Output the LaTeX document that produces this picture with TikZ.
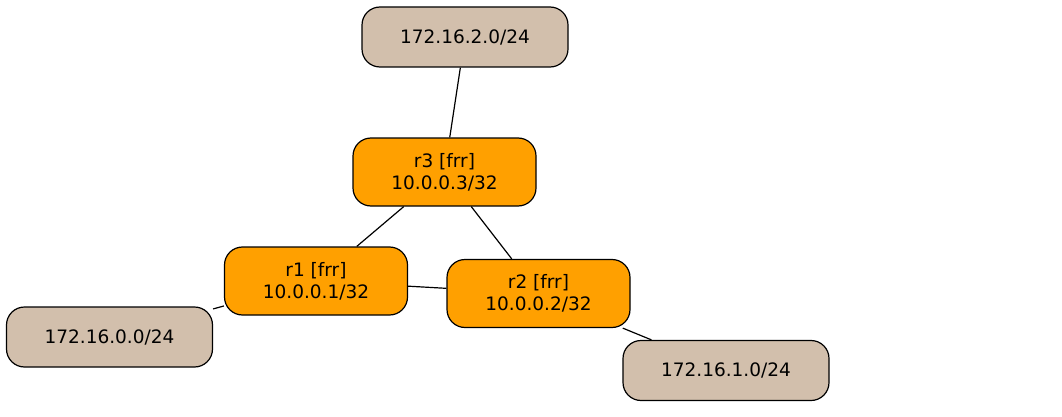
\documentclass[tikz,border=0pt]{standalone}
\usepackage{fontspec}
\setmainfont{DejaVu Sans}
\definecolor{routerorange}{RGB}{255,160,0}
\definecolor{nettan}{RGB}{210,191,172}
\begin{document}
\begin{tikzpicture}[x=1pt,y=-1pt,
  router/.style={draw=black,line width=1.2pt,fill=routerorange,rounded corners=18pt,
    minimum width=183pt,minimum height=68pt,inner sep=0pt,align=center,
    font=\fontsize{18.5}{22}\selectfont},
  net/.style={draw=black,line width=1.2pt,fill=nettan,rounded corners=18pt,
    minimum width=206pt,minimum height=60pt,inner sep=0pt,
    font=\fontsize{18.5}{22}\selectfont},
  link/.style={draw=black,line width=1.2pt}]
\useasboundingbox (0,0) rectangle (1062,417);
\node[net] (net2) at (465,37) {172.16.2.0/24};
\node[router] (r3) at (444.5,172) {r3 [frr]\\10.0.0.3/32};
\node[router] (r1) at (316,281) {r1 [frr]\\10.0.0.1/32};
\node[router] (r2) at (538.5,293.5) {r2 [frr]\\10.0.0.2/32};
\node[net] (net0) at (109.5,337) {172.16.0.0/24};
\node[net] (net1) at (726,370.5) {172.16.1.0/24};
\draw[link] (net2)--(r3);
\draw[link] (r3)--(r1);
\draw[link] (r3)--(r2);
\draw[link] (r1)--(r2);
\draw[link] (r1)--(net0);
\draw[link] (r2)--(net1);
\end{tikzpicture}
\end{document}
